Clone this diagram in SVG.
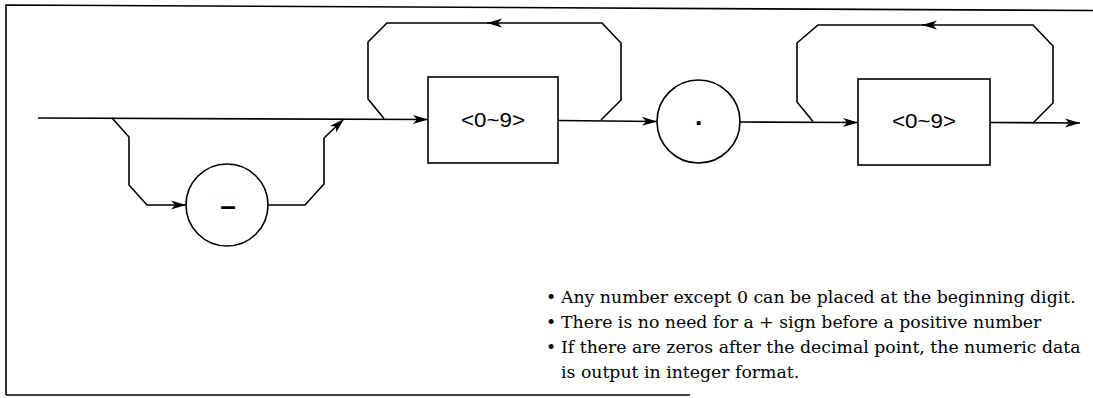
<svg xmlns="http://www.w3.org/2000/svg" width="1093" height="398" viewBox="0 0 1093 398">
<style>
.ln{fill:none;stroke:#000;stroke-width:1.6;stroke-linejoin:miter}
.shape{fill:#fff;stroke:#000;stroke-width:1.6}
.lbl{font-family:"Liberation Sans",Arial,sans-serif;font-size:20px;fill:#000;text-anchor:middle}
.note{font-family:"DejaVu Serif","Liberation Serif",serif;font-size:17.3px;fill:#000}
</style>
<defs>
<marker id="arr" markerUnits="userSpaceOnUse" markerWidth="16" markerHeight="12" refX="15" refY="5" orient="auto" viewBox="0 0 16 10">
<path d="M0,0.5 L15,5 L0,9.5 L4,5 Z" fill="#000"/>
</marker>
</defs>
<g id="frame">
<path class="ln" d="M6,395 L6,5 L1093,10.5"/>
<path class="ln" d="M6,395 L690,395" stroke-width="2"/>
</g>
<g id="connectors">
<path class="ln" d="M38,118 L428,119.5" marker-end="url(#arr)"/>
<path class="ln" d="M112,118 L129,137 L129,185 L147,205 L186,205" marker-end="url(#arr)"/>
<path class="ln" d="M268,205 L305,205 L324,184 L324,138 L344,119" marker-end="url(#arr)"/>
<path class="ln" d="M601,120 L621,100 L621,43 L602,23 L487,23" marker-end="url(#arr)"/>
<path class="ln" d="M489,23 L387,23 L368,42 L368,99 L384,118.5"/>
<path class="ln" d="M558,120.5 L657,121.5" marker-end="url(#arr)"/>
<path class="ln" d="M740,122 L858,122.5" marker-end="url(#arr)"/>
<path class="ln" d="M1033,123 L1053,103 L1053,46 L1033,25 L922,25" marker-end="url(#arr)"/>
<path class="ln" d="M924,25 L818,25 L797,43 L797,102 L813,121.5"/>
<path class="ln" d="M990,122.5 L1080,123" marker-end="url(#arr)"/>
</g>
<g id="node-minus">
<circle class="shape" cx="227" cy="205" r="41"/>
<text x="228" y="215" font-family="Liberation Sans, Arial, sans-serif" font-size="28" font-weight="bold" text-anchor="middle">–</text>
</g>
<g id="node-digits1">
<rect class="shape" x="428" y="77" width="130" height="86"/>
<text class="lbl" x="493" y="127" textLength="64" lengthAdjust="spacingAndGlyphs">&lt;0~9&gt;</text>
</g>
<g id="node-point">
<circle class="shape" cx="698.5" cy="121.5" r="41.5"/>
<text x="698.5" y="125" font-family="Liberation Sans, Arial, sans-serif" font-size="26" font-weight="bold" text-anchor="middle">.</text>
</g>
<g id="node-digits2">
<rect class="shape" x="858" y="79" width="132" height="86"/>
<text class="lbl" x="924" y="128" textLength="64" lengthAdjust="spacingAndGlyphs">&lt;0~9&gt;</text>
</g>
<g id="notes">
<text class="note" x="546" y="303">•</text>
<text class="note" x="561" y="303">Any number except 0 can be placed at the beginning digit.</text>
<text class="note" x="546" y="328">•</text>
<text class="note" x="561" y="328">There is no need for a + sign before a positive number</text>
<text class="note" x="546" y="353">•</text>
<text class="note" x="561" y="353">If there are zeros after the decimal point, the numeric data</text>
<text class="note" x="561" y="378">is output in integer format.</text>
</g>
</svg>
